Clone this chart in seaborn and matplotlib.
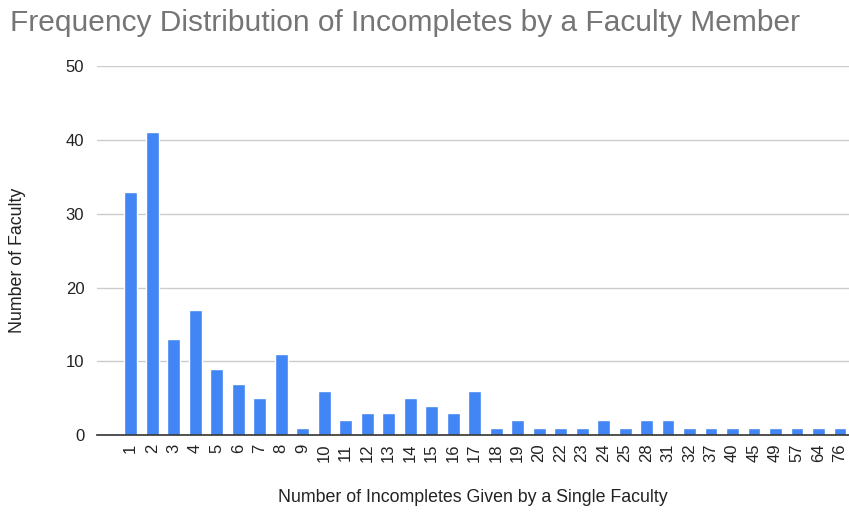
import matplotlib
matplotlib.use("Agg")
import matplotlib.pyplot as plt
import seaborn as sns
import pandas as pd

categories = ["1", "2", "3", "4", "5", "6", "7", "8", "9", "10", "11", "12", "13", "14", "15",
              "16", "17", "18", "19", "20", "22", "23", "24", "25", "28", "31", "32", "37",
              "40", "45", "49", "57", "64", "76"]
counts = [33, 41, 13, 17, 9, 7, 5, 11, 1, 6, 2, 3, 3, 5, 4,
          3, 6, 1, 2, 1, 1, 1, 2, 1, 2, 2, 1, 1,
          1, 1, 1, 1, 1, 1]
y_ticks = [0, 10, 20, 30, 40, 50]

df = pd.DataFrame({"incompletes": categories, "faculty": counts})

sns.set_theme(style="white")
plt.rcParams["font.family"] = ["Liberation Sans", "DejaVu Sans"]

fig = plt.figure(figsize=(8.49, 5.12), dpi=100)
ax = fig.add_axes([0.114, 0.150, 0.886, 0.721])

sns.barplot(data=df, x="incompletes", y="faculty", order=categories, color="#4285F4",
            saturation=1, width=0.6, ax=ax)

ax.set_ylim(0, 50)
ax.set_yticks(y_ticks)
ax.set_xlim(-1.58, 33.42)
ax.yaxis.grid(True, color="#CCCCCC", linewidth=1)
ax.set_axisbelow(True)
for s in ["top", "right", "left"]:
    ax.spines[s].set_visible(False)
ax.spines["bottom"].set_color("#333333")
ax.spines["bottom"].set_linewidth(1.2)
ax.tick_params(axis="x", labelrotation=90, labelsize=12, length=0, pad=6, colors="#222222")
ax.tick_params(axis="y", labelsize=12, length=0, pad=9, colors="#222222")

ax.set_xlabel("Number of Incompletes Given by a Single Faculty", fontsize=12.8, color="#222222")
ax.set_ylabel("Number of Faculty", fontsize=12.8, color="#222222")
ax.xaxis.set_label_coords(0.5, (435 - 497) / 369, transform=ax.transAxes)
ax.yaxis.set_label_coords((18 - 97) / 752, (435 - 260) / 369, transform=ax.transAxes)
ax.xaxis.label.set_va("center")
ax.yaxis.label.set_va("center")

fig.text(0.012, 0.955, "Frequency Distribution of Incompletes by a Faculty Member",
         fontsize=21.5, color="#757575", ha="left", va="center")

fig.savefig("out.png", dpi=100, facecolor="white")
